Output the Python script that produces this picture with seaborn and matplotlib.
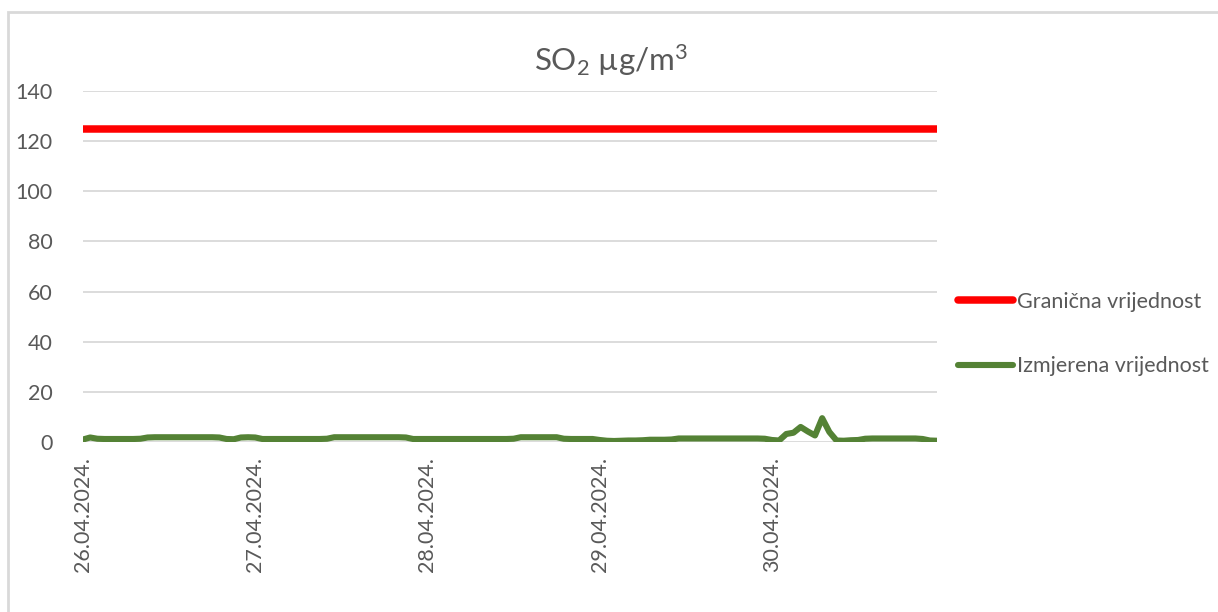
import matplotlib
matplotlib.use("Agg")
import matplotlib.pyplot as plt
import numpy as np
import pandas as pd
import seaborn as sns
from matplotlib.lines import Line2D
from matplotlib.patches import Rectangle

# hourly measurements 26.04.2024. 00h - 30.04.2024. 23h
measured = [
    1.0, 1.8, 1.3, 1.2, 1.2, 1.2, 1.2, 1.2, 1.3, 1.8, 1.9, 1.9,
    1.9, 1.9, 1.9, 1.9, 1.9, 1.9, 1.9, 1.8, 1.2, 1.1, 1.8, 1.9,
    1.8, 1.2, 1.2, 1.2, 1.2, 1.2, 1.2, 1.2, 1.2, 1.2, 1.3, 1.9,
    1.9, 1.9, 1.9, 1.9, 1.9, 1.9, 1.9, 1.9, 1.9, 1.8, 1.2, 1.2,
    1.2, 1.2, 1.2, 1.2, 1.2, 1.2, 1.2, 1.2, 1.2, 1.2, 1.2, 1.2,
    1.3, 1.9, 1.9, 1.9, 1.9, 1.9, 1.9, 1.3, 1.2, 1.2, 1.2, 1.2,
    0.8, 0.5, 0.4, 0.5, 0.6, 0.6, 0.7, 0.9, 0.9, 0.9, 1.0, 1.4,
    1.4, 1.4, 1.4, 1.4, 1.4, 1.4, 1.4, 1.4, 1.4, 1.4, 1.4, 1.3,
    0.8, 0.6, 3.2, 3.7, 6.0, 4.2, 2.6, 9.5, 4.0, 0.6, 0.5, 0.7,
    0.8, 1.3, 1.4, 1.4, 1.4, 1.4, 1.4, 1.4, 1.4, 1.2, 0.6, 0.5,
]
limit_value = 125
day_labels = ["26.04.2024.", "27.04.2024.", "28.04.2024.", "29.04.2024.", "30.04.2024."]

hours = np.arange(len(measured))
frame = pd.DataFrame({
    "hour": hours,
    "measured": measured,
    "limit": [limit_value] * len(measured),
})

sns.set_theme(style="white")
plt.rcParams["font.family"] = ["Lato", "DejaVu Sans"]
plt.rcParams["mathtext.fontset"] = "custom"
plt.rcParams["mathtext.rm"] = "Lato"
plt.rcParams["mathtext.it"] = "Lato"

text_color = "#595959"
red = "#FF0000"
green = "#548235"

figure = plt.figure(figsize=(12.18, 6.12), dpi=100)
axis = figure.add_axes([83 / 1218, 1 - 442 / 612, (937 - 83) / 1218, (442 - 91) / 612])

sns.lineplot(data=frame, x="hour", y="limit", color=red, linewidth=5.4,
             solid_capstyle="round", ax=axis, zorder=3)
sns.lineplot(data=frame, x="hour", y="measured", color=green, linewidth=4.4,
             solid_capstyle="round", solid_joinstyle="round", ax=axis, zorder=4)

axis.set_xlim(0, len(measured) - 1)
axis.set_ylim(0, 140)
axis.set_yticks(range(0, 141, 20))
axis.set_xticks(range(0, len(measured), 24))
axis.set_xticklabels(day_labels, rotation=90, va="top", ha="center")
axis.set_xlabel("")
axis.set_ylabel("")
axis.tick_params(axis="both", length=0, labelsize=15.5, colors=text_color)
axis.tick_params(axis="x", pad=11)
axis.tick_params(axis="y", pad=22)
axis.yaxis.grid(True, color="#D9D9D9", linewidth=1.3)
axis.set_axisbelow(True)
for spine in axis.spines.values():
    spine.set_visible(False)

figure.text(0.502, 0.902, r"SO$_2$ µg/m$^3$", ha="center", va="center",
            fontsize=22.5, color=text_color)

handles = [
    Line2D([], [], color=red, linewidth=5.4, solid_capstyle="round"),
    Line2D([], [], color=green, linewidth=4.4, solid_capstyle="round"),
]
legend = figure.legend(handles, ["Granična vrijednost", "Izmjerena vrijednost"],
                       loc="center left", bbox_to_anchor=(958 / 1218, 1 - 334 / 612),
                       frameon=False, fontsize=15.5, handlelength=2.55,
                       handletextpad=0.2, labelspacing=2.05, borderpad=0,
                       borderaxespad=0)
for text in legend.get_texts():
    text.set_color(text_color)

border = Rectangle((7.5 / 1218, -0.1), 1.2, (612 - 11.5) / 612 + 0.1,
                   transform=figure.transFigure, fill=False,
                   edgecolor="#D9D9D9", linewidth=2)
figure.patches.append(border)

figure.savefig("out.png", dpi=100)
plt.close(figure)
